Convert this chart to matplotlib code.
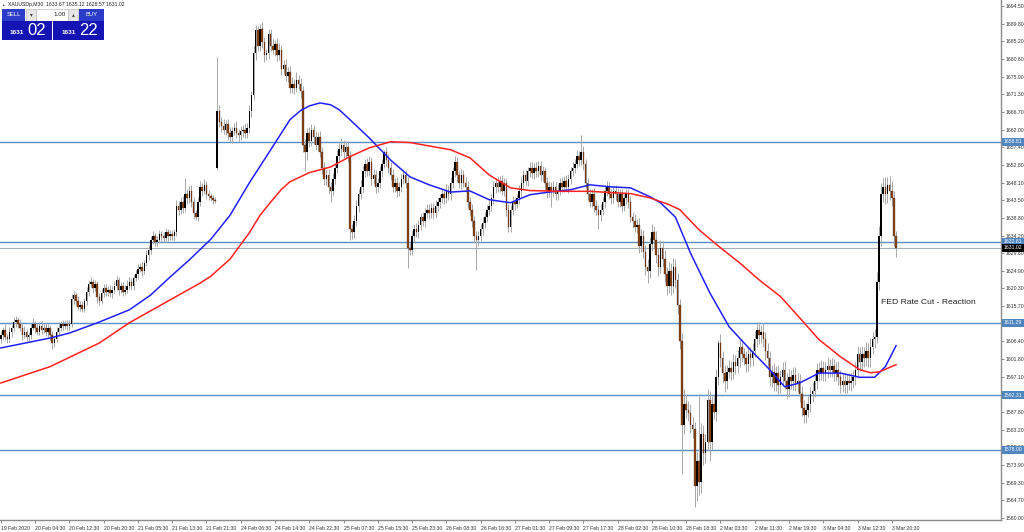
import numpy as np
import matplotlib
matplotlib.use("Agg")
import matplotlib.pyplot as plt
from matplotlib.patches import Rectangle
from matplotlib.transforms import blended_transform_factory

# XAUUSDp M30 candles, 19 Feb 2020 20:30 .. 3 Mar 2020 21:30
closes = [
    1608, 1609.5, 1607.5, 1607, 1609, 1610, 1611.5, 1612, 1611, 1610,
    1608, 1609, 1607.5, 1608, 1610, 1611, 1610, 1609, 1610.5, 1609.5,
    1610, 1609, 1610, 1608, 1606, 1607, 1609, 1610, 1611, 1610.5,
    1611, 1610.5, 1611, 1617.5, 1618.5, 1617, 1615.5, 1616, 1615, 1617,
    1619.5, 1621.5, 1622, 1620.5, 1621.5, 1618, 1617, 1619, 1620.5, 1619.5,
    1620, 1619, 1620, 1621, 1622.5, 1620, 1621, 1619.5, 1620, 1621,
    1622, 1621, 1623, 1624, 1625.5, 1626, 1625, 1627, 1629, 1630.5,
    1633, 1634, 1632.5, 1633, 1634.5, 1634, 1633.5, 1635, 1634, 1634.5,
    1634, 1635, 1642, 1641, 1643, 1641.5, 1645, 1644, 1646, 1643,
    1640, 1639, 1643, 1647, 1646, 1647.5, 1645, 1644.5, 1644, 1643.5,
    1643.3, 1667, 1664, 1663, 1662, 1663.5, 1661, 1660, 1661.5, 1662.5,
    1661, 1660.5, 1661.5, 1662, 1661, 1662.5, 1667, 1671, 1682, 1688,
    1684, 1688.5, 1685, 1681.5, 1682, 1687, 1684, 1683, 1684.5, 1681.5,
    1683, 1678, 1679, 1676, 1677, 1673, 1674, 1673, 1675, 1674,
    1672, 1658, 1656, 1661, 1659, 1662, 1660, 1658, 1660, 1656,
    1652, 1649, 1650, 1647, 1646, 1649, 1652, 1655, 1657, 1658,
    1656, 1657.5, 1655, 1636, 1635, 1638, 1642, 1645, 1647, 1651,
    1653, 1651, 1653.5, 1649, 1650, 1647, 1648, 1651, 1653, 1656,
    1654, 1652, 1650, 1647, 1648, 1646, 1647, 1649, 1650, 1648,
    1631, 1630.5, 1634, 1636, 1635, 1637, 1639, 1638, 1640, 1641,
    1640, 1641.5, 1640, 1642, 1643, 1644, 1645, 1644, 1646, 1645,
    1648, 1651, 1653.5, 1650, 1648, 1650, 1648, 1647, 1643, 1641,
    1638, 1634, 1633, 1634, 1636, 1637.5, 1639, 1641, 1642, 1644,
    1647, 1648, 1647, 1648.5, 1646, 1648, 1641, 1636.5, 1641, 1643,
    1642.5, 1644, 1646, 1648, 1650, 1648.5, 1651, 1652, 1650.5, 1652,
    1651, 1652.5, 1650, 1651, 1648, 1646, 1647, 1645.5, 1647, 1645,
    1646, 1648, 1647, 1648.5, 1647, 1649, 1651, 1652, 1653, 1655,
    1654, 1656, 1653, 1648, 1645, 1643, 1645, 1642, 1641, 1639.5,
    1641, 1643, 1646, 1647, 1645, 1644, 1646, 1645, 1643, 1645,
    1642, 1644, 1645, 1643, 1639, 1638, 1636.5, 1637, 1631.5, 1634,
    1630, 1626, 1625, 1632, 1635, 1633, 1629, 1626, 1631, 1628,
    1624, 1621, 1625, 1621, 1626, 1622.5, 1616, 1606.5, 1584.5, 1590,
    1588.5, 1587.5, 1584.5, 1583.5, 1568.5, 1575, 1569.5, 1582, 1577, 1580,
    1591, 1580, 1590, 1588, 1597, 1606, 1602, 1598, 1596, 1598.5,
    1599.5, 1598.5, 1601, 1600, 1602, 1605, 1603, 1602, 1600.5, 1603,
    1602, 1604, 1607, 1609.5, 1608, 1609, 1607, 1604, 1602, 1597,
    1598.5, 1595.5, 1598, 1595, 1597, 1599, 1596, 1594, 1597, 1596,
    1597.5, 1595.5, 1596, 1592.5, 1589, 1587, 1588.5, 1590, 1592.5, 1593.5,
    1596, 1599, 1598, 1599.5, 1598, 1599, 1600, 1599, 1600, 1598,
    1599, 1597, 1595, 1596, 1595, 1596, 1595.5, 1596, 1597, 1599,
    1603, 1601, 1603, 1602, 1604, 1602, 1605, 1607, 1607.5, 1622,
    1634, 1645, 1647, 1645, 1647.5, 1646, 1644, 1634, 1631.02,
]
first_open = 1607.0
gap_opens = {101: 1652.0}   # Monday open after the weekend gap

wick_up = [
    1.2, 0.8, 1.5, 0.9, 1.1, 0.7, 1.3, 1.0, 0.8, 1.2,
    0.9, 1.4, 0.8, 1.0, 1.3, 1.6, 0.7, 1.1, 0.9, 1.2,
    1.0, 1.3, 0.9, 0.8, 1.1, 0.9, 1.2, 1.4, 0.8, 1.0,
    1.1, 0.9, 1.0, 1.4, 1.2, 0.8, 1.3, 1.0, 1.1, 0.9,
    1.3, 1.0, 1.2, 0.9, 1.1, 0.8, 1.0, 1.2, 0.9, 1.1,
    0.9, 1.1, 1.0, 1.3, 1.2, 0.8, 1.0, 0.9, 1.1, 1.4,
    1.2, 1.0, 0.9, 1.1, 1.3, 1.0, 1.2, 0.9, 1.4, 1.1,
    1.0, 1.3, 0.9, 1.1, 1.2, 0.8, 1.0, 1.3, 0.9, 1.1,
    1.1, 0.9, 1.5, 1.3, 1.2, 1.6, 4.3, 1.4, 1.2, 1.5,
    1.2, 1.0, 1.3, 1.5, 1.1, 1.4, 1.0, 1.2, 0.9, 0.8,
    0.7, 14.0, 1.5, 1.2, 1.8, 1.0, 1.4, 1.6, 1.1, 1.3,
    1.7, 1.2, 1.4, 1.1, 1.6, 1.3, 1.5, 1.2, 1.8, 1.5,
    1.3, 1.2, 1.6, 1.4, 1.2, 1.5, 1.3, 1.7, 1.1, 1.4,
    1.6, 1.3, 1.2, 1.5, 1.3, 1.6, 1.8, 1.4, 2.0, 1.3,
    1.5, 1.4, 1.6, 1.3, 1.8, 1.5, 1.2, 1.7, 1.4, 1.6,
    1.3, 1.5, 1.4, 1.7, 1.3, 1.5, 1.2, 1.6, 1.4, 1.8,
    1.3, 1.5, 1.3, 1.5, 1.2, 1.6, 1.4, 1.3, 1.7, 1.5,
    1.4, 1.6, 1.5, 1.3, 1.6, 1.4, 1.2, 1.5, 1.3, 0.7,
    1.4, 1.6, 1.4, 1.6, 1.3, 1.5, 1.2, 1.4, 1.6, 1.3,
    1.5, 1.2, 1.5, 1.3, 1.6, 1.4, 1.2, 1.5, 1.3, 1.6,
    1.4, 1.2, 1.3, 1.6, 1.4, 1.2, 1.5, 1.3, 1.6, 1.4,
    1.5, 1.3, 1.5, 1.4, 1.2, 1.6, 1.3, 1.5, 1.4, 1.2,
    1.6, 1.4, 1.3, 1.5, 1.2, 1.6, 1.4, 1.3, 1.5, 1.2,
    1.6, 1.4, 1.5, 1.3, 1.6, 1.4, 1.2, 1.5, 1.3, 1.6,
    1.4, 1.2, 1.4, 1.6, 1.3, 1.5, 1.2, 1.4, 1.6, 1.3,
    1.5, 1.2, 1.3, 1.5, 1.2, 1.6, 1.4, 1.3, 1.5, 1.2,
    1.6, 1.4, 1.5, 1.3, 1.6, 1.4, 1.2, 1.5, 1.3, 1.6,
    1.4, 4.6, 1.6, 1.4, 1.2, 1.5, 1.3, 1.6, 1.4, 1.2,
    1.5, 1.3, 1.4, 1.6, 1.3, 1.5, 1.2, 1.4, 1.6, 1.3,
    1.5, 1.2, 1.5, 1.3, 1.6, 1.4, 1.8, 1.5, 1.7, 2.0,
    1.6, 1.8, 2.0, 1.8, 2.2, 1.6, 2.4, 1.9, 2.1, 1.7,
    2.3, 2.0, 2.2, 1.9, 2.4, 2.0, 1.8, 1.5, 2.0, 4.0,
    2.5, 2.2, 2.4, 2.0, 1.8, 2.5, 17.5, 3.0, 2.5, 2.2,
    2.8, 2.4, 2.0, 2.5, 2.2, 0.8, 2.4, 2.0, 2.2, 1.8,
    2.0, 1.9, 2.0, 1.8, 2.2, 1.9, 2.1, 1.8, 2.0, 2.2,
    1.9, 2.0, 2.1, 1.5, 2.0, 1.8, 2.2, 1.9, 2.1, 2.0,
    1.8, 2.2, 2.0, 2.3, 1.9, 2.1, 2.4, 2.0, 2.2, 1.8,
    2.1, 2.3, 2.1, 1.9, 2.2, 2.0, 1.8, 2.1, 1.9, 2.2,
    2.0, 1.8, 1.9, 2.1, 1.8, 2.0, 2.2, 1.9, 2.1, 1.8,
    2.0, 2.2, 2.0, 1.8, 2.1, 1.9, 2.2, 2.0, 1.8, 2.1,
    2.3, 2.0, 2.2, 2.0, 2.3, 2.1, 2.4, 2.0, 2.2, 2.5,
    2.8, 3.0, 2.3, 2.5, 2.0, 2.2, 2.5, 2.0, 1.5,
]
wick_dn = [
    0.9, 1.3, 0.7, 1.1, 0.8, 1.4, 0.9, 1.2, 1.0, 0.8,
    1.2, 0.8, 1.1, 0.9, 1.0, 0.7, 1.3, 1.0, 0.8, 1.1,
    0.9, 1.1, 1.4, 1.2, 1.6, 1.0, 0.8, 1.1, 0.9, 1.2,
    0.8, 1.2, 1.0, 0.9, 1.3, 1.1, 0.9, 1.2, 0.8, 1.0,
    1.0, 1.2, 0.8, 1.3, 0.9, 1.4, 1.1, 0.8, 1.0, 1.2,
    1.1, 0.9, 1.2, 0.8, 1.0, 1.3, 0.9, 1.1, 1.0, 0.8,
    0.9, 1.2, 1.0, 0.8, 1.1, 0.9, 1.3, 1.0, 0.8, 1.2,
    1.2, 0.9, 1.1, 1.0, 0.8, 1.3, 1.0, 0.9, 1.2, 1.0,
    0.9, 1.2, 1.0, 1.4, 1.1, 1.3, 1.0, 1.5, 1.2, 1.3,
    1.4, 0.8, 1.1, 1.0, 1.3, 0.9, 1.2, 1.0, 0.8, 0.9,
    0.6, 0.5, 1.3, 1.6, 1.1, 1.4, 1.8, 1.2, 1.5, 1.0,
    1.3, 1.6, 1.2, 1.5, 1.3, 1.1, 1.4, 1.6, 1.2, 1.8,
    1.5, 1.3, 1.5, 1.8, 1.3, 1.6, 1.4, 1.2, 1.7, 1.5,
    1.3, 1.6, 1.4, 1.2, 1.6, 1.3, 1.5, 1.7, 1.2, 1.4,
    1.6, 1.8, 5.0, 2.0, 1.5, 1.3, 1.8, 1.4, 1.6, 1.3,
    1.7, 1.5, 1.6, 1.8, 3.0, 1.4, 1.2, 1.5, 1.3, 1.6,
    1.4, 1.2, 1.5, 3.0, 1.6, 1.4, 1.2, 1.5, 1.3, 1.6,
    1.4, 1.2, 1.3, 1.5, 1.2, 1.6, 1.4, 1.3, 1.5, 1.2,
    1.6, 1.4, 1.2, 1.5, 1.4, 1.6, 1.3, 1.5, 1.2, 1.4,
    5.3, 1.5, 1.4, 1.6, 1.2, 1.5, 1.3, 1.4, 1.6, 1.2,
    1.5, 1.3, 1.5, 1.2, 1.4, 1.6, 1.3, 1.5, 1.2, 1.4,
    1.6, 1.3, 1.4, 1.6, 1.3, 1.5, 1.2, 1.4, 1.6, 1.3,
    1.5, 1.7, 7.8, 1.5, 1.3, 1.6, 1.4, 1.2, 1.5, 1.3,
    1.4, 1.6, 1.3, 1.5, 1.2, 1.4, 1.6, 1.5, 1.3, 1.4,
    1.6, 1.2, 1.5, 1.3, 1.6, 1.4, 1.2, 1.5, 1.3, 1.6,
    1.4, 1.5, 1.4, 1.6, 1.5, 2.0, 1.8, 3.8, 1.3, 1.6,
    1.4, 1.2, 1.3, 1.5, 1.2, 1.6, 1.4, 1.3, 1.5, 1.2,
    1.6, 1.4, 1.5, 1.3, 1.6, 1.4, 1.2, 1.5, 1.3, 3.5,
    1.6, 1.4, 1.6, 1.4, 1.2, 1.5, 1.3, 1.6, 1.4, 1.2,
    1.5, 1.3, 1.4, 1.6, 1.3, 1.8, 1.5, 1.7, 2.0, 1.6,
    1.8, 2.2, 3.3, 2.0, 1.8, 2.2, 1.9, 2.4, 1.7, 2.1,
    2.0, 2.3, 2.0, 2.3, 1.9, 2.1, 2.4, 2.0, 13.0, 2.5,
    2.2, 2.0, 2.2, 2.5, 5.5, 4.0, 3.5, 2.8, 3.0, 2.5,
    2.2, 5.0, 2.2, 2.0, 2.5, 2.0, 2.2, 2.5, 2.8, 2.0,
    1.8, 2.2, 1.9, 2.1, 1.8, 2.2, 2.0, 1.9, 2.1, 1.8,
    2.2, 2.0, 1.8, 2.0, 2.2, 1.9, 2.1, 2.4, 2.0, 2.2,
    2.5, 2.1, 2.2, 2.5, 2.0, 2.3, 2.1, 2.6, 2.2, 2.0,
    2.4, 2.1, 2.3, 2.0, 2.2, 2.0, 2.1, 1.9, 2.2, 2.0,
    1.8, 2.1, 2.0, 1.8, 2.1, 1.9, 2.2, 2.0, 1.8, 2.1,
    1.9, 2.0, 2.1, 1.9, 2.2, 2.0, 1.8, 2.1, 1.9, 2.0,
    2.2, 2.4, 2.0, 2.3, 2.1, 2.2, 2.4, 2.0, 2.3, 1.5,
    2.0, 2.5, 2.0, 2.4, 2.2, 2.5, 2.0, 2.5, 2.4,
]

# moving averages, sampled (bar index, price)
ma_fast_bar = [0, 23, 32, 46, 60, 70, 79, 88, 98, 107, 116, 126, 135, 140, 144, 149, 154,
               158, 163, 172, 182, 191, 200, 210, 219, 228, 238, 247, 256, 266, 275, 284,
               294, 303, 308, 315, 322, 331, 340, 350, 359, 366, 373, 382, 392, 401, 408,
               413, 418]
ma_fast = [1604.7, 1607.3, 1608.6, 1611.5, 1614.7, 1618.6, 1623.3, 1627.8, 1633.2, 1639.5,
           1648.0, 1656.7, 1664.6, 1667.0, 1668.2, 1669.0, 1668.5, 1667.2, 1664.6, 1659.8,
           1654.0, 1649.6, 1647.5, 1645.6, 1645.9, 1643.6, 1642.8, 1644.9, 1645.6, 1646.2,
           1647.5, 1647.0, 1646.7, 1644.4, 1642.8, 1639.0, 1629.6, 1619.2, 1610.3, 1604.2,
           1599.0, 1594.5, 1595.5, 1598.1, 1598.1, 1597.0, 1597.0, 1599.8, 1605.3]
ma_slow_bar = [0, 23, 46, 60, 79, 93, 98, 107, 116, 121, 126, 131, 135, 144, 154, 163, 172,
               182, 191, 200, 210, 219, 228, 238, 247, 261, 275, 284, 294, 303, 312, 317,
               326, 336, 345, 354, 364, 373, 382, 392, 401, 406, 410, 418]
ma_slow = [1595.5, 1599.8, 1606.0, 1611.3, 1617.3, 1621.7, 1623.5, 1628.0, 1634.9, 1639.5,
           1643.0, 1646.3, 1648.3, 1650.7, 1652.2, 1654.9, 1657.2, 1658.8, 1658.6, 1657.7,
           1656.7, 1654.6, 1650.1, 1646.7, 1646.0, 1645.8, 1645.8, 1645.5, 1645.2, 1644.1,
           1642.3, 1641.0, 1635.7, 1631.0, 1627.0, 1622.6, 1618.2, 1612.6, 1606.9, 1602.4,
           1599.0, 1598.2, 1598.4, 1600.3]

levels = [1658.81, 1632.61, 1611.29, 1592.31, 1578.00]
bid = 1631.02

y_ticks = [1560.00, 1564.70, 1569.30, 1573.90, 1578.60, 1583.20, 1587.80, 1592.50, 1597.10,
           1601.80, 1606.40, 1611.00, 1615.70, 1620.30, 1624.90, 1629.60, 1634.20, 1638.80,
           1643.50, 1648.10, 1652.80, 1657.40, 1662.00, 1666.70, 1671.30, 1675.90, 1680.60,
           1685.20, 1689.80, 1694.50]
x_labels = ["19 Feb 2020", "20 Feb 04:30", "20 Feb 12:30", "20 Feb 20:30", "21 Feb 05:30",
            "21 Feb 13:30", "21 Feb 21:30", "24 Feb 06:30", "24 Feb 14:30", "24 Feb 22:30",
            "25 Feb 07:30", "25 Feb 15:30", "25 Feb 23:30", "26 Feb 08:30", "26 Feb 16:30",
            "27 Feb 01:30", "27 Feb 09:30", "27 Feb 17:30", "28 Feb 02:30", "28 Feb 10:30",
            "28 Feb 18:30", "2 Mar 03:30", "2 Mar 11:30", "2 Mar 19:30", "3 Mar 04:30",
            "3 Mar 12:30", "3 Mar 20:30"]
header = "XAUUSDp,M30  1633.67 1635.12 1628.57 1631.02"

FONT = ["Liberation Sans", "DejaVu Sans"]
W, H = 1024, 532

fig = plt.figure(figsize=(W / 100, H / 100), dpi=100)
fig.patch.set_facecolor("white")
ax = fig.add_axes([0, 1 - 520 / H, 1001 / W, 520 / H])
ax.set_xlim(-0.4, 467)
ax.set_ylim(1559.55, 1696.0)

c = np.array(closes, dtype=float)
n = len(c)
o = np.concatenate([[first_open], c[:-1]])
for k, v in gap_opens.items():
    o[k] = v
hi = np.maximum(o, c) + np.array(wick_up[:n])
lo = np.minimum(o, c) - np.array(wick_dn[:n])
idx = np.arange(n)

ax.vlines(idx, lo, hi, color="#a8a8a8", lw=0.7, zorder=2)
bull = c >= o
body = np.maximum(np.abs(c - o), 0.25)
ax.bar(idx[bull], body[bull], bottom=o[bull], width=0.72, color="black", lw=0, zorder=3)
ax.bar(idx[~bull], body[~bull], bottom=c[~bull], width=0.72, color="#8b4513",
       edgecolor="#3a1a08", lw=0.2, zorder=3)

ax.plot(ma_fast_bar, ma_fast, color="#2020ff", lw=1.1, zorder=4)
ax.plot(ma_slow_bar, ma_slow, color="#ff2020", lw=1.1, zorder=4)

for lvl in levels:
    ax.axhline(lvl, color="#5b8ec4", lw=1.0, zorder=1)
ax.axhline(bid, color="#a6aeb8", lw=0.8, zorder=1)

# axes look
for s in ["top", "left"]:
    ax.spines[s].set_visible(False)
for s in ["right", "bottom"]:
    ax.spines[s].set_color("#8c8c8c")
    ax.spines[s].set_linewidth(1.0)
ax.yaxis.tick_right()
ax.set_yticks(y_ticks)
ax.set_yticklabels([f"{v:.2f}" for v in y_ticks], fontsize=3.7, family=FONT)
ax.tick_params(axis="y", length=2, width=0.5, colors="#606060", pad=1.5)
ax.set_xticks(np.arange(len(x_labels)) * 16)
ax.set_xticklabels(x_labels, fontsize=3.7, family=FONT)
ax.tick_params(axis="x", length=2.5, width=0.5, colors="#606060", pad=1.5)
for lab in ax.get_xticklabels():
    lab.set_horizontalalignment("left")
for lab in ax.get_yticklabels() + ax.get_xticklabels():
    lab.set_color("#303030")

trans = blended_transform_factory(ax.transAxes, ax.transData)
for lvl in levels:
    ax.text(1.003, lvl, f"{lvl:.2f}", transform=trans, ha="left", va="center",
            fontsize=3.7, family=FONT, color="white", zorder=10, clip_on=False,
            bbox=dict(boxstyle="square,pad=0.3", fc="#4f86c0", ec="none"))
ax.text(1.003, bid, f"{bid:.2f}", transform=trans, ha="left", va="center",
        fontsize=3.7, family=FONT, color="white", zorder=11, clip_on=False,
        bbox=dict(boxstyle="square,pad=0.3", fc="black", ec="none"))

fig.text(881 / W, 1 - 302 / H, "FED Rate Cut - Reaction", ha="left", va="center",
         fontsize=6.1, family=FONT, color="#202020")


# one-click trading panel (top left)
def fr(x, y, w, h, fc, ec="none", lw=0.0):
    fig.patches.append(Rectangle((x / W, 1 - (y + h) / H), w / W, h / H, fc=fc, ec=ec,
                                 lw=lw, transform=fig.transFigure, figure=fig, zorder=20))


def ft(x, y, s, size, color, ha="left", weight="normal"):
    fig.text(x / W, 1 - y / H, s, ha=ha, va="center", fontsize=size, family=FONT,
             color=color, weight=weight, zorder=21)


ft(1.5, 4.5, "▲", 2.5, "#404040")
ft(8, 4.5, header, 3.7, "#202020")
fr(2, 9, 23, 12, "#2a3cc8")
ft(13.5, 15, "SELL", 4.2, "white", ha="center")
fr(26, 9, 10, 12, "#e6e6e6", ec="#b0b0b0", lw=0.4)
ft(31, 15, "▾", 4, "#404040", ha="center")
fr(36, 9, 32, 12, "white", ec="#b0b0b0", lw=0.4)
ft(66, 15, "1.00", 4.5, "#202020", ha="right")
fr(68, 9, 10, 12, "#e6e6e6", ec="#b0b0b0", lw=0.4)
ft(73, 15, "▴", 4, "#404040", ha="center")
fr(79, 9, 25, 12, "#2a3cc8")
ft(91.5, 15, "BUY", 4.2, "white", ha="center")
fr(2, 21, 50, 19, "#1414b4")
fr(53, 21, 51, 19, "#1414b4")
ft(10, 33, "1631", 4.6, "white", weight="bold")
ft(27, 30.5, "02", 12, "white")
ft(62, 33, "1631", 4.6, "white", weight="bold")
ft(79, 30.5, "22", 12, "white")

fig.savefig("out.png", dpi=100, facecolor="white")
